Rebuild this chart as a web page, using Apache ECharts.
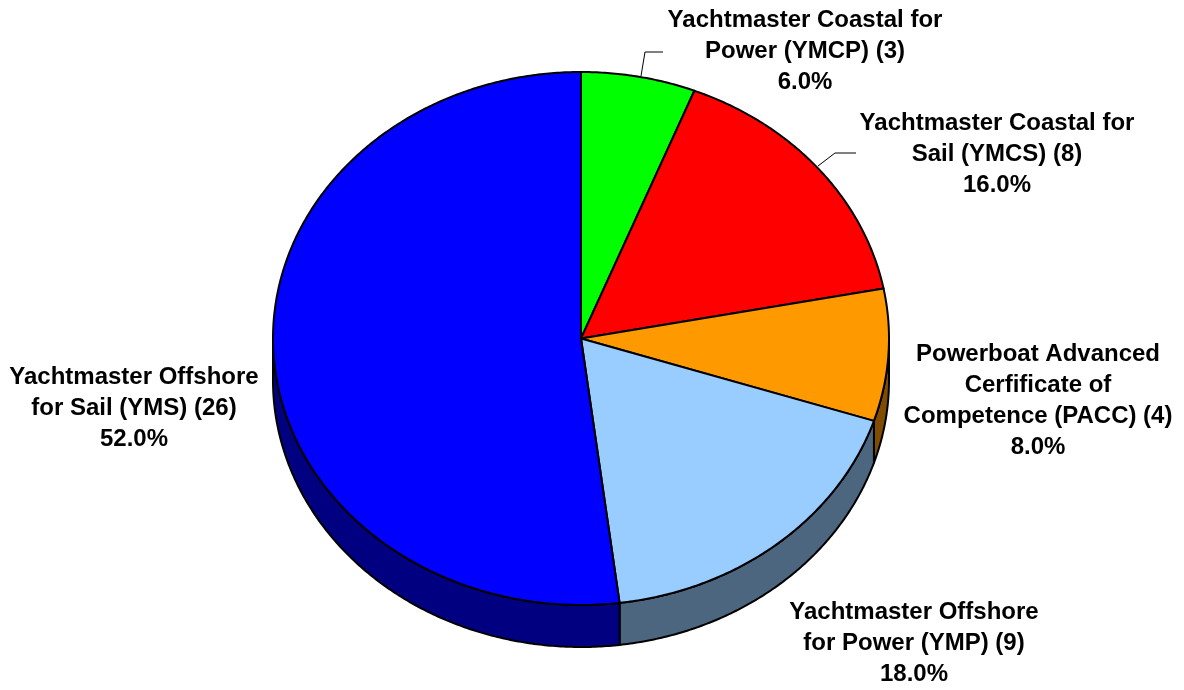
<!DOCTYPE html>
<html>
<head>
<meta charset="utf-8">
<script src="https://cdn.jsdelivr.net/npm/echarts@6/dist/echarts.min.js"></script>
<style>html,body{margin:0;padding:0;background:#fff;}#chart{width:1184px;height:690px;}</style>
</head>
<body>
<div id="chart"></div>
<script>
// ---- data ----
const categories = [
  'Yachtmaster Coastal for\nPower (YMCP)',
  'Yachtmaster Coastal for\nSail (YMCS)',
  'Powerboat Advanced\nCerfificate of\nCompetence (PACC)',
  'Yachtmaster Offshore\nfor Power (YMP)',
  'Yachtmaster Offshore\nfor Sail (YMS)'
];
const counts = [3, 8, 4, 9, 26];
const topColors = ['#00FF00', '#FF0000', '#FF9900', '#99CCFF', '#0000FF'];
const sideColors = ['#008000', '#800000', '#804C00', '#4C6680', '#000080'];

// ---- layout (styles/positions) ----
const CX = 581, CY = 338.5, RX = 308, RY = 266.5, DEPTH = 42;
const labelPos = [[805, 51], [997, 154], [1038, 401], [914, 643], [134, 408]];
const leaders = {
  0: [[641, 76], [645, 52], [663, 52]],
  1: [[818, 166], [835, 153], [856, 153]]
};

const total = counts.reduce((a, b) => a + b, 0);
const starts = [];
let acc = 0;
counts.forEach(v => { starts.push(acc / total * 360); acc += v; });

function pt(deg, dy) {
  const r = deg * Math.PI / 180;
  return [CX + RX * Math.sin(r), CY - RY * Math.cos(r) + (dy || 0)];
}
function arcPts(a0, a1, dy) {
  const pts = [];
  const n = Math.max(2, Math.ceil(Math.abs(a1 - a0) / 0.5));
  for (let i = 0; i <= n; i++) pts.push(pt(a0 + (a1 - a0) * i / n, dy));
  return pts;
}

const chart = echarts.init(document.getElementById('chart'), null, {renderer: 'canvas'});
const option = {
  backgroundColor: '#ffffff',
  animation: false,
  series: [{
    type: 'custom',
    coordinateSystem: 'none',
    data: counts.map((v, i) => ({name: categories[i], value: v})),
    renderItem: function (params, api) {
      const i = params.dataIndex;
      const v = api.value(0);
      const a0 = starts[i];
      const a1 = a0 + v / total * 360;
      const children = [];
      // side face (front half only: 90..270 deg)
      const s0 = Math.max(a0, 90), s1 = Math.min(a1, 270);
      if (s1 > s0) {
        const top = arcPts(s0, s1, 0);
        const bot = arcPts(s1, s0, DEPTH);
        children.push({
          type: 'polygon',
          shape: {points: top.concat(bot)},
          style: {fill: sideColors[i], stroke: '#000', lineWidth: 2, lineJoin: 'round'},
          z2: 1
        });
      }
      // top face
      children.push({
        type: 'polygon',
        shape: {points: [[CX, CY]].concat(arcPts(a0, a1, 0))},
        style: {fill: topColors[i], stroke: '#000', lineWidth: 2, lineJoin: 'round'},
        z2: 2
      });
      // leader line
      if (leaders[i]) {
        children.push({
          type: 'polyline',
          shape: {points: leaders[i]},
          style: {stroke: '#000', lineWidth: 1, fill: null},
          z2: 3
        });
      }
      // label
      const pct = (v / total * 100).toFixed(1) + '%';
      children.push({
        type: 'text',
        x: labelPos[i][0],
        y: labelPos[i][1],
        style: {
          text: categories[i] + ' (' + v + ')\n' + pct,
          fontFamily: '"Liberation Sans", Arial, sans-serif',
          fontWeight: 'bold',
          fontSize: 24,
          lineHeight: 31,
          fill: '#000',
          align: 'center',
          verticalAlign: 'middle'
        },
        z2: 4
      });
      return {type: 'group', children: children};
    }
  }]
};
chart.setOption(option);
</script>
</body>
</html>
